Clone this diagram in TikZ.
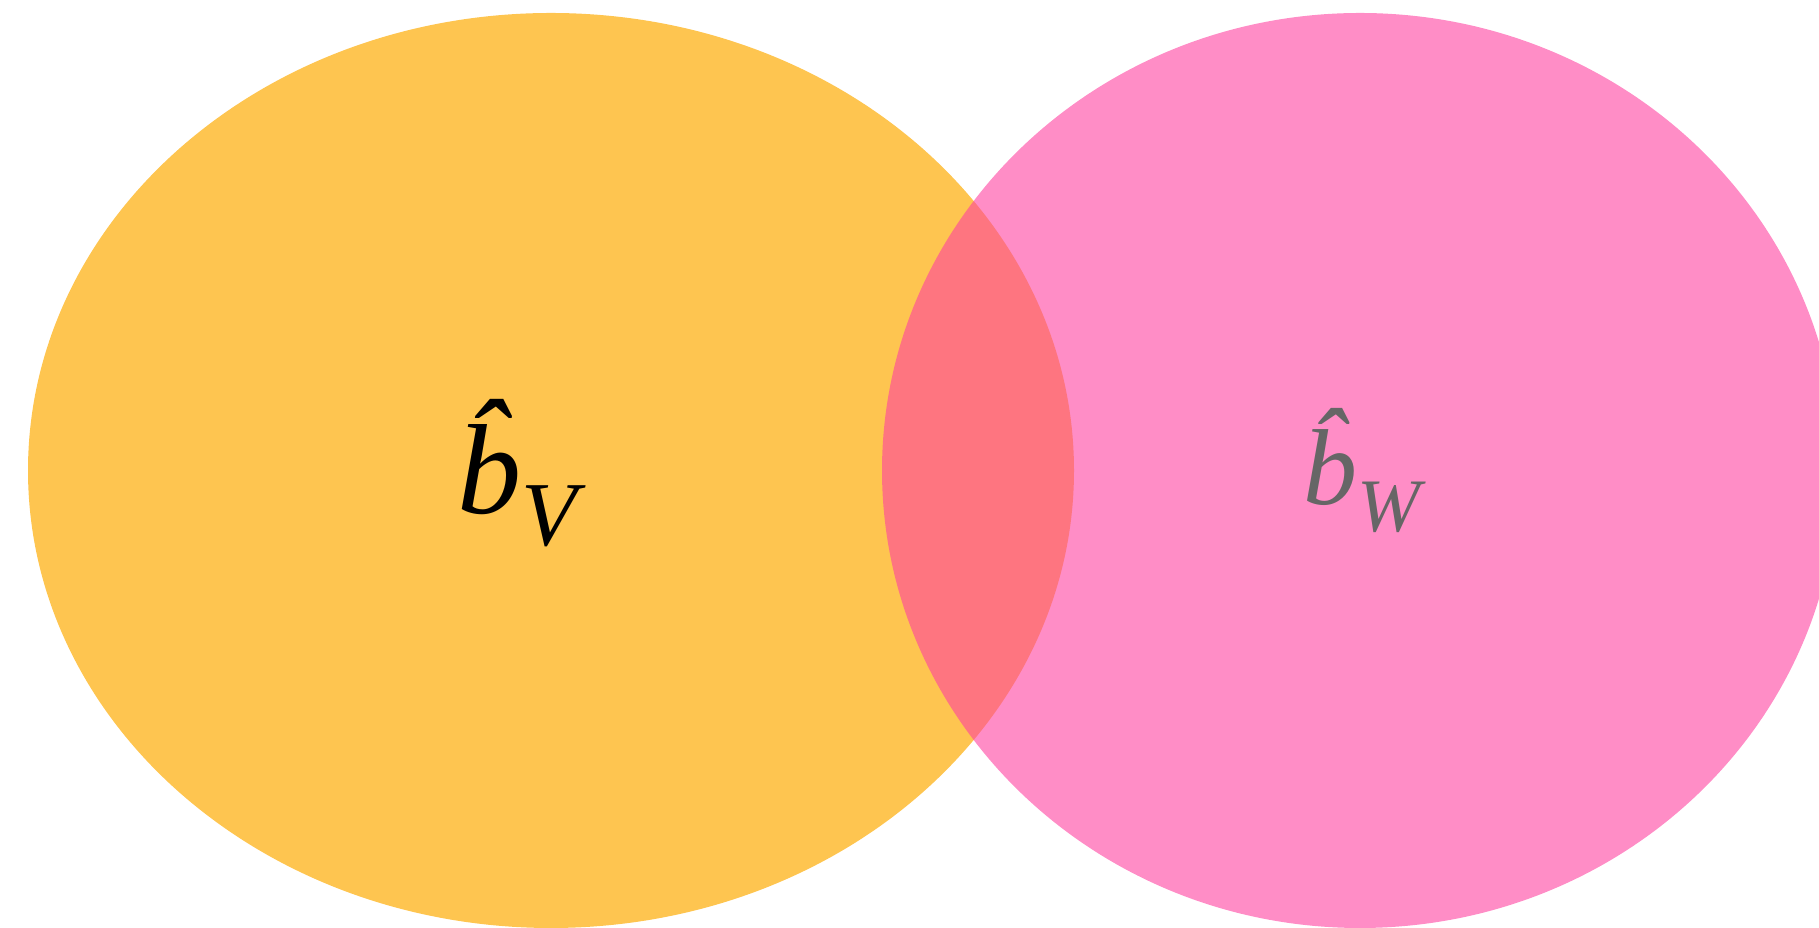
\documentclass[tikz,border=0pt]{standalone}
\usepackage{amsmath, amssymb, xcolor}
\usepackage{fontspec}
\usepackage{tikz}
\newfontfamily\labelfont{Liberation Serif}
\definecolor{setV}{RGB}{254,197,80}
\definecolor{setW}{RGB}{255,65,160}
\definecolor{labelW}{RGB}{102,102,102}

\begin{document}
\begin{tikzpicture}[x=0.02cm, y=0.02cm, setlabel/.style={inner sep=0pt, anchor=base west}]
				\useasboundingbox (0,0) rectangle (1819,928);
				\fill[setV] (551,457.5) ellipse [x radius=523, y radius=457.5];
				\fill[setW, opacity=0.6] (1360,457.5) ellipse [x radius=478, y radius=457.5];
				\node[setlabel] (bv) at (457,414) {\labelfont\itshape\fontsize{73}{80}\selectfont\^{b}\raisebox{-18pt}{\fontsize{52}{60}\selectfont V}};
				\node[setlabel, text=labelW] (bw) at (1303,423) {\labelfont\itshape\fontsize{61.5}{70}\selectfont\^{b}\raisebox{-15pt}{\fontsize{43}{50}\selectfont W}};
			\end{tikzpicture}
\end{document}
